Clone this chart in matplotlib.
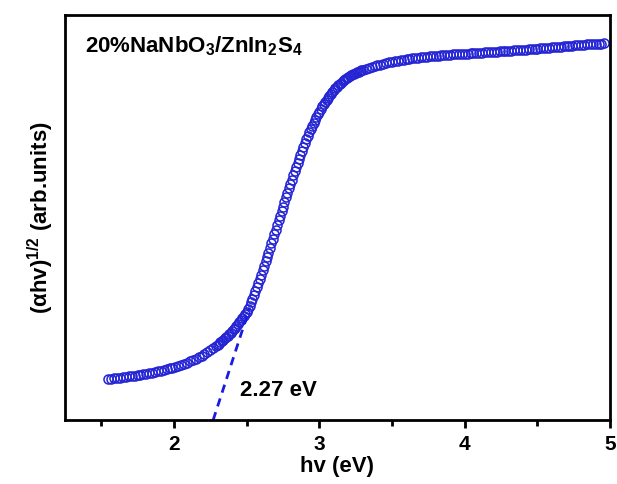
import numpy as np
import matplotlib
matplotlib.use("Agg")
import matplotlib.pyplot as plt
from matplotlib.ticker import MultipleLocator

plt.rcParams['font.family'] = ['Liberation Sans', 'DejaVu Sans']
plt.rcParams['font.weight'] = 'bold'
plt.rcParams['mathtext.fontset'] = 'custom'
plt.rcParams['mathtext.rm'] = 'Liberation Sans:bold'
plt.rcParams['mathtext.bf'] = 'Liberation Sans:bold'

# photon energy (eV): 0.02 steps on the flat parts, 0.01 on the edge
hv = np.round(np.concatenate([np.arange(1.55, 2.295, 0.02),
                              np.arange(2.30, 3.305, 0.01),
                              np.arange(3.32, 4.965, 0.02)]), 3)
# (ahv)^1/2 (arb. units)
ahv_low = [41.0, 41.4, 41.8, 42.2, 42.6, 43.0, 43.4, 43.8, 44.2, 44.6,
           45.0, 45.4, 45.8, 46.3, 46.8, 47.4, 48.0, 48.6, 49.3, 50.1,
           50.9, 51.7, 52.5, 53.5, 54.4, 55.4, 56.5, 57.5, 58.6, 59.9,
           61.3, 62.7, 64.2, 65.9, 67.8, 69.8, 71.9, 74.1]
ahv_edge = [75.2, 76.4, 77.6, 78.9, 80.2, 81.6, 83.0, 84.4, 85.9, 87.4,
            89.0, 90.7, 92.4, 94.2, 96.0, 97.9, 99.8, 101.8, 103.8, 105.9,
            108.0, 111.1, 114.3, 117.6, 121.2, 125.0, 128.9, 132.9, 137.0, 141.2,
            145.5, 149.9, 154.3, 158.7, 163.1, 167.5, 172.1, 176.7, 181.3, 185.9,
            190.5, 195.1, 199.7, 204.3, 208.9, 213.5, 218.1, 222.7, 227.2, 231.6,
            236.0, 240.4, 244.8, 249.2, 253.4, 257.5, 261.5, 265.5, 269.4, 273.2,
            277.0, 280.6, 284.2, 287.7, 290.9, 294.0, 297.0, 300.0, 302.9, 305.7,
            308.5, 311.1, 313.7, 316.1, 318.4, 320.5, 322.5, 324.5, 326.4, 328.2,
            330.0, 331.6, 333.2, 334.7, 336.1, 337.5, 338.7, 339.9, 341.0, 342.0,
            343.0, 343.9, 344.8, 345.6, 346.4, 347.1, 347.7, 348.4, 349.0, 349.6,
            350.2]
ahv_high = [351.3, 352.2, 353.1, 354.0, 354.8,
            355.5, 356.2, 356.9, 357.6, 358.2, 358.8, 359.3, 359.8, 360.3, 360.8,
            361.2, 361.6, 362.0, 362.4, 362.8, 363.1, 363.4, 363.7, 364.0, 364.3,
            364.5, 364.8, 365.0, 365.3, 365.5, 365.7, 365.8, 366.0, 366.2, 366.3,
            366.5, 366.7, 366.9, 367.1, 367.3, 367.5, 367.7, 367.9, 368.1, 368.3,
            368.5, 368.7, 368.9, 369.1, 369.3, 369.5, 369.7, 369.9, 370.1, 370.3,
            370.5, 370.8, 371.0, 371.3, 371.5, 371.7, 372.0, 372.2, 372.5, 372.7,
            373.0, 373.2, 373.5, 373.7, 374.0, 374.3, 374.5, 374.8, 375.0, 375.3,
            375.5, 375.7, 375.9, 376.1, 376.3, 376.4, 376.5, 376.6]
ahv = ahv_low + ahv_edge + ahv_high

# tangent line for the band gap
fit_x = [2.27, 2.52]
fit_y = [0, 112]
gap_label = "2.27 eV"
sample = r"20%NaNbO$_\mathbf{3}$/ZnIn$_\mathbf{2}$S$_\mathbf{4}$"

fig = plt.figure(figsize=(6.17, 4.84), dpi=100)
ax = fig.add_axes([0.105, 0.132, 0.884, 0.837])

ax.plot(hv, ahv, 'o', mfc='none', mec='#2424d4', ms=6.5, mew=1.1)
ax.plot(fit_x, fit_y, '--', color='#1a1ae6', lw=2, dashes=(3, 2.2))

ax.set_xlim(1.25, 5.0)
ax.set_ylim(0, 405)
ax.xaxis.set_major_locator(MultipleLocator(1))
ax.xaxis.set_minor_locator(MultipleLocator(0.5))
ax.set_yticks([])
ax.tick_params(axis='x', which='major', length=6, width=2, labelsize=15, pad=5)
ax.tick_params(axis='x', which='minor', length=4, width=2)
for s in ax.spines.values():
    s.set_linewidth(2)

ax.set_xlabel("hv (eV)", fontsize=16, fontweight='bold', labelpad=1)
ax.set_ylabel(r"(αhv)$^\mathbf{1/2}$ (arb.units)", fontsize=16, fontweight='bold', labelpad=6)

ax.text(1.39, 374, sample, fontsize=16, fontweight='bold', va='center')
ax.text(2.455, 30, gap_label, fontsize=16, fontweight='bold', va='center')

fig.savefig("out.png", dpi=100)
